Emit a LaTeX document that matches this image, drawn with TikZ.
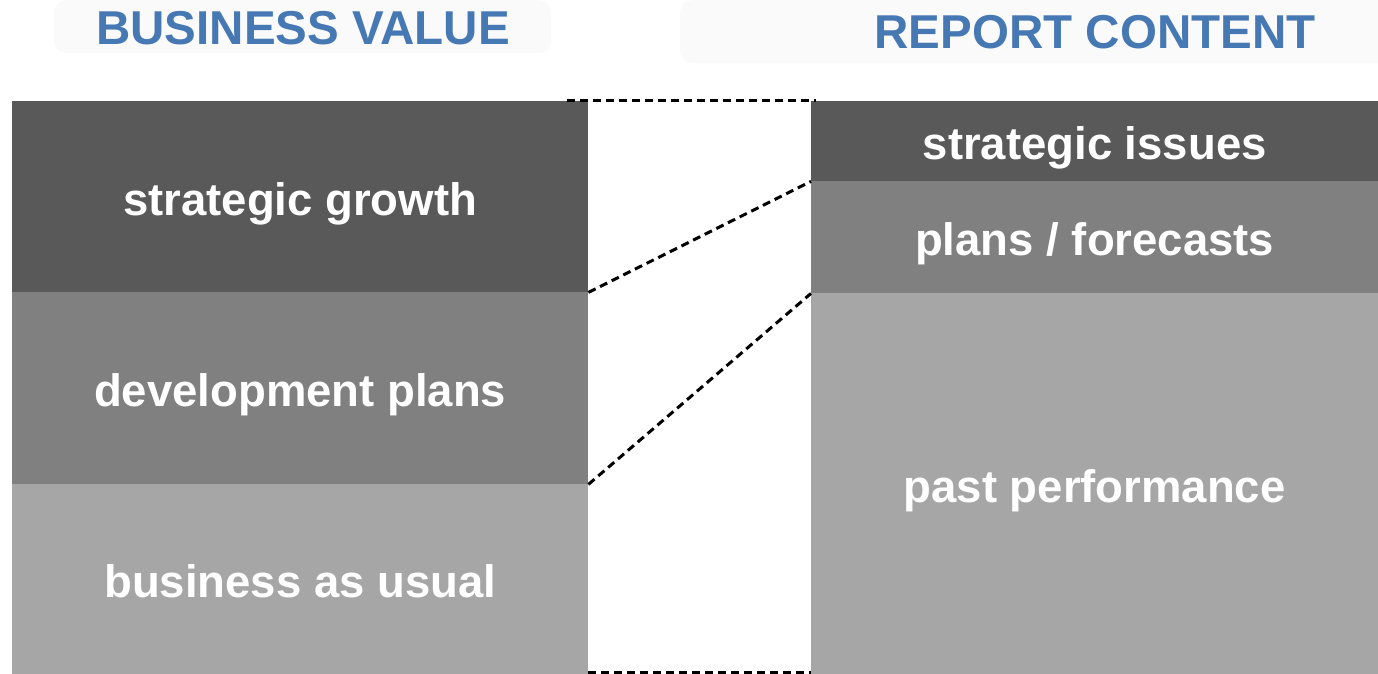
\documentclass[tikz,border=0pt]{standalone}
\usepackage{fontspec}
\setmainfont{Liberation Sans}
\usepackage{tikz}
\usetikzlibrary{positioning}

\definecolor{darkgrey}{RGB}{89,89,89}
\definecolor{midgrey}{RGB}{128,128,128}
\definecolor{lightgrey}{RGB}{166,166,166}
\definecolor{titleblue}{RGB}{70,120,180}
\definecolor{titlebg}{RGB}{250,250,250}

\newcommand{\boxfont}{\bfseries\fontsize{45.5}{50}\selectfont}
\newcommand{\headfont}{\bfseries\fontsize{47.5}{52}\selectfont}

\begin{document}
\begin{tikzpicture}[x=1pt,y=1pt,yscale=-1,
    blk/.style={rectangle, inner sep=0pt, anchor=north west, text=white, font=\boxfont,
        text height=37pt, text depth=0pt},
    headbg/.style={rectangle, rounded corners=12pt, fill=titlebg, inner sep=0pt, anchor=north west},
    headtxt/.style={inner sep=0pt, text=titleblue, font=\headfont},
    link/.style={dash pattern=on 8pt off 5pt, line width=3pt}]
    \useasboundingbox (0,0) rectangle (1378,674);

    % Title backgrounds
    \node [headbg, minimum width=497, minimum height=53] (bvbg) at (54,0) {};
    \node [headbg, minimum width=710, minimum height=63] (rcbg) at (680,0) {};
    % Text Node
    \node [headtxt] (bv) at (303,28) {BUSINESS VALUE};
    % Text Node
    \node [headtxt] (rc) at (1095,32) {REPORT CONTENT};

    % Left column
    \node [blk, fill=darkgrey, minimum width=576, minimum height=191] (sg) at (12,101) {strategic growth};
    \node [blk, fill=midgrey, minimum width=576, minimum height=192] (dp) at (12,292) {development plans};
    \node [blk, fill=lightgrey, minimum width=576, minimum height=190] (bu) at (12,484) {business as usual};

    % Right column
    \node [blk, fill=darkgrey, minimum width=567, minimum height=80] (si) at (811,101) {strategic issues};
    \node [blk, fill=midgrey, minimum width=567, minimum height=112] (pf) at (811,181) {plans / forecasts};
    \node [blk, fill=lightgrey, minimum width=567, minimum height=381] (pp) at (811,293) {past performance};

    % Dashed links
    \draw [link] ([xshift=-21pt]sg.north east) -- ([xshift=5pt]si.north west);
    \draw [link] (sg.south east) -- (si.south west);
    \draw [link] (dp.south east) -- (pf.south west);
    \draw [link] ([yshift=-1.5pt]bu.south east) -- ([yshift=-1.5pt]pp.south west);

\end{tikzpicture}
\end{document}
